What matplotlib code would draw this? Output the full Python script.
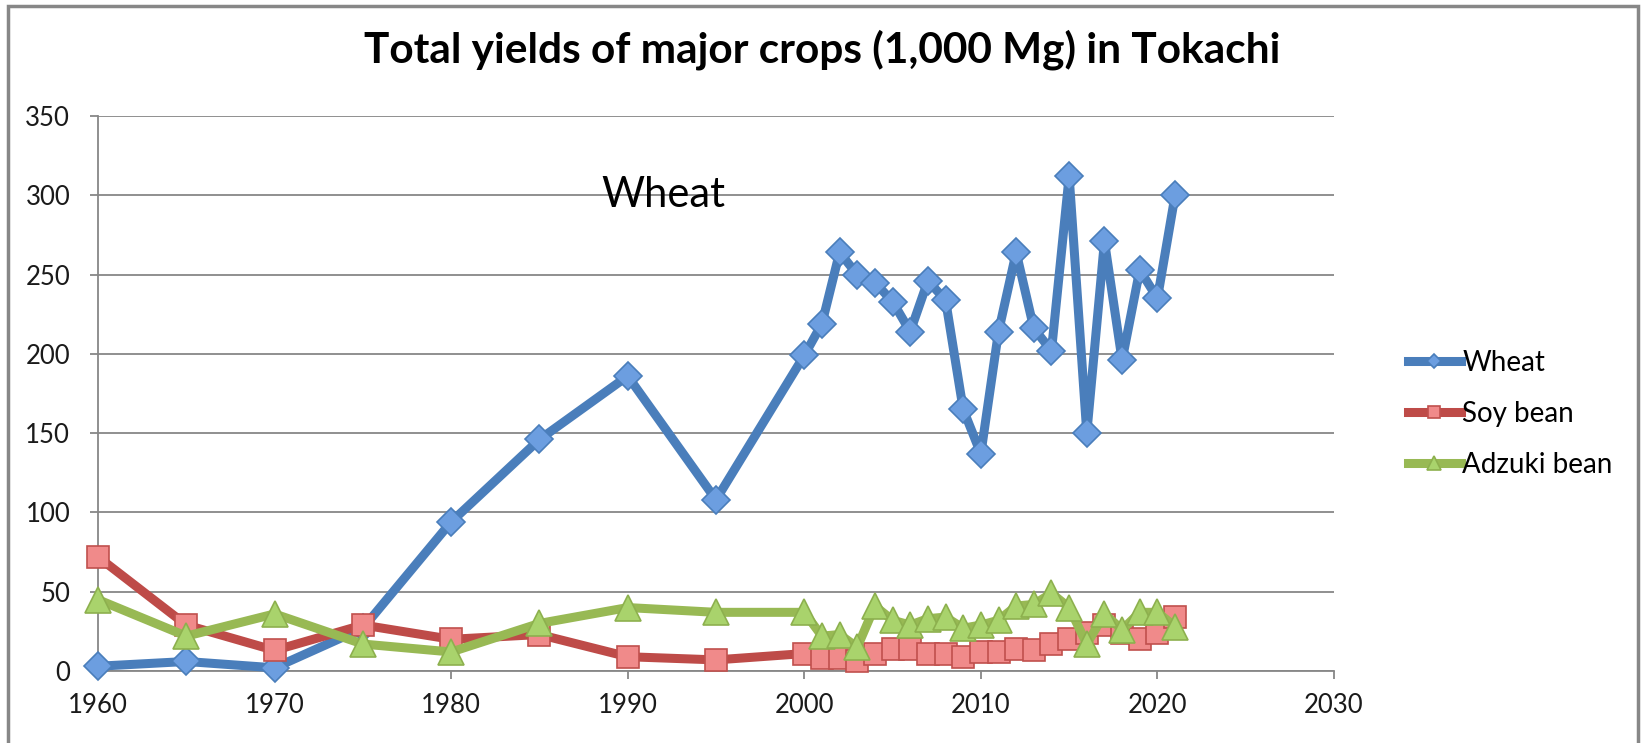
import matplotlib.pyplot as plt
from matplotlib.patches import Rectangle

# data (1,000 Mg)
years = [1960, 1965, 1970, 1975, 1980, 1985, 1990, 1995,
         2000, 2001, 2002, 2003, 2004, 2005, 2006, 2007, 2008, 2009, 2010,
         2011, 2012, 2013, 2014, 2015, 2016, 2017, 2018, 2019, 2020, 2021]
wheat = [3, 6, 2, 27, 94, 146, 186, 108,
         199, 219, 264, 250, 245, 233, 214, 246, 234, 165, 137,
         214, 264, 216, 202, 312, 150, 271, 196, 253, 235, 300]
soy_bean = [72, 29, 13, 29, 20, 23, 9, 7,
            11, 8, 8, 6, 11, 14, 14, 11, 11, 9, 12,
            12, 14, 13, 17, 20, 24, 29, 24, 20, 24, 34]
adzuki_bean = [45, 22, 36, 17, 12, 30, 40, 37,
               37, 22, 23, 15, 41, 32, 29, 33, 34, 27, 29,
               32, 41, 42, 49, 40, 17, 36, 26, 37, 37, 28]

plt.rcParams['font.family'] = ['Lato', 'DejaVu Sans']

W, H = 1643, 743
fig = plt.figure(figsize=(W / 100, H / 100), dpi=100)
ax = fig.add_axes([98 / W, 1 - 671 / H, (1334 - 98) / W, (671 - 116) / H])

grey = '#878787'

ax.plot(years, wheat, color='#4A7EBB', lw=6.5, marker='D', ms=14,
        mfc='#6C9EE0', mec='#4A7EBB', mew=1.2, label='Wheat', clip_on=False, zorder=3)
ax.plot(years, soy_bean, color='#BE4B48', lw=6.5, marker='s', ms=16,
        mfc='#F08A8A', mec='#C0504D', mew=1.2, label='Soy bean', clip_on=False, zorder=4)
ax.plot(years, adzuki_bean, color='#98B954', lw=6.5, marker='^', ms=19,
        mfc='#A9D36C', mec='#8DB04E', mew=1.2, label='Adzuki bean', clip_on=False, zorder=5)

ax.set_xlim(1960, 2030)
ax.set_ylim(0, 350)
ax.set_xticks(range(1960, 2031, 10))
ax.set_yticks(range(0, 351, 50))
ax.grid(axis='y', color=grey, lw=1.3)
ax.set_axisbelow(True)
for s in ['top', 'right']:
    ax.spines[s].set_visible(False)
for s in ['left', 'bottom']:
    ax.spines[s].set_color(grey)
    ax.spines[s].set_linewidth(1.3)
ax.tick_params(axis='both', direction='out', color=grey, width=1.3, length=6,
               labelsize=18.5, labelcolor='#1a1a1a')
ax.tick_params(axis='y', pad=14)
ax.tick_params(axis='x', pad=10)

fig.text(822 / W, 1 - 50 / H, 'Total yields of major crops (1,000 Mg) in Tokachi',
         ha='center', va='center', fontsize=30.5, fontweight='bold')
ax.text(1992, 300, 'Wheat', ha='center', va='center', fontsize=30)

ax.legend(loc='center left', bbox_to_anchor=(1383 / W, 1 - 414 / H),
          bbox_transform=fig.transFigure, frameon=False, fontsize=20,
          handlelength=1.9, handletextpad=0.05, labelspacing=0.9, markerscale=0.5)

fig.add_artist(Rectangle((8 / W, -0.02), (1638 - 8) / W, 1.02 - 6 / H,
                         transform=fig.transFigure, fill=False, ec=grey, lw=2.5))

fig.savefig('out.png', dpi=100)
